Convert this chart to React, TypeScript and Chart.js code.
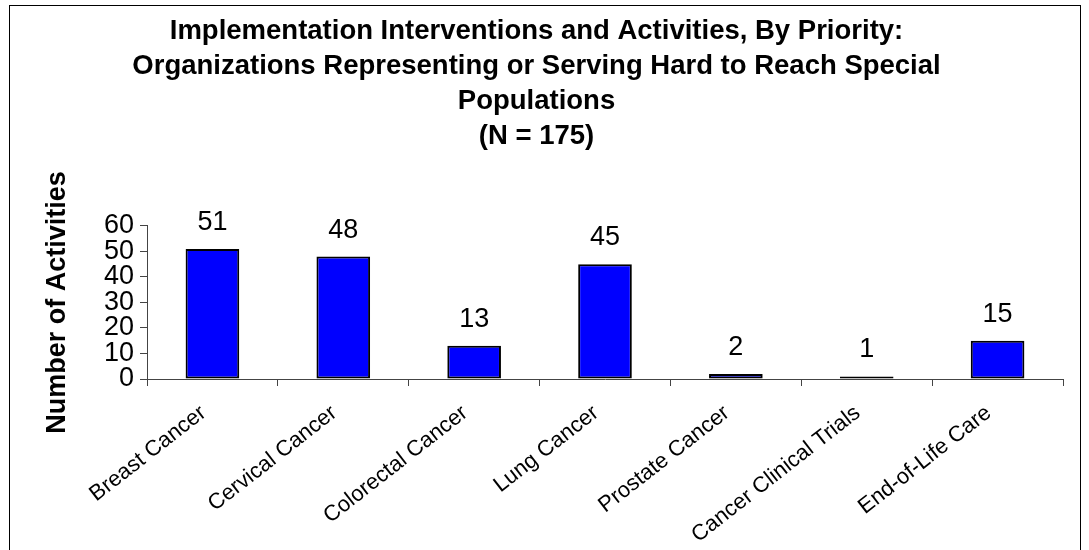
import React, { useEffect, useRef } from "react";
import { Chart, registerables } from "chart.js";

Chart.register(...registerables);

const categories = [
  "Breast Cancer",
  "Cervical Cancer",
  "Colorectal Cancer",
  "Lung Cancer",
  "Prostate Cancer",
  "Cancer Clinical Trials",
  "End-of-Life Care",
];
const activities = [51, 48, 13, 45, 2, 1, 15];
const titleLines = [
  "Implementation Interventions and Activities, By Priority:",
  "Organizations Representing or Serving Hard to Reach Special",
  "Populations",
  "(N = 175)",
];
const yAxisTitle = "Number of Activities";
const yMin = 0;
const yMax = 60;
const yStep = 10;

const FONT = "Arial, 'Liberation Sans', sans-serif";

const CANVAS_W = 1070;
const CANVAS_H = 558;

const valueLabels = {
  id: "valueLabels",
  afterDatasetsDraw(chart: any) {
    const ctx = chart.ctx;
    const meta = chart.getDatasetMeta(0);
    ctx.save();
    ctx.font = `27px ${FONT}`;
    ctx.fillStyle = "#000";
    ctx.textAlign = "center";
    ctx.textBaseline = "alphabetic";
    meta.data.forEach((bar: any, i: number) => {
      ctx.fillText(String(chart.data.datasets[0].data[i]), bar.x, bar.y - 19);
    });
    ctx.restore();
  },
};

export default function App() {
  const canvasRef = useRef<HTMLCanvasElement>(null);

  useEffect(() => {
    const canvas = canvasRef.current;
    if (!canvas) return;
    const chart = new Chart(canvas, {
      type: "bar",
      data: {
        labels: categories,
        datasets: [
          {
            data: activities,
            backgroundColor: "#0000FF",
            borderColor: "#000000",
            borderWidth: 2,
            borderSkipped: false,
            categoryPercentage: 1,
            barPercentage: 0.41,
          },
        ],
      },
      options: {
        animation: false,
        responsive: false,
        maintainAspectRatio: false,
        layout: { padding: { left: 0, right: 17, top: 0, bottom: 0 } },
        plugins: {
          legend: { display: false },
          tooltip: { enabled: false },
          title: {
            display: true,
            text: titleLines,
            color: "#000",
            font: { family: FONT, size: 27.5, weight: "bold", lineHeight: 1.2727 },
            padding: { top: 8, bottom: 72 },
          },
        },
        scales: {
          x: {
            grid: {
              offset: true,
              drawOnChartArea: false,
              drawTicks: true,
              tickLength: 7,
              color: "#444",
            },
            border: { display: true, color: "#444", width: 1 },
            ticks: {
              color: "#000",
              font: { family: FONT, size: 22 },
              minRotation: 38,
              maxRotation: 38,
              autoSkip: false,
              padding: 14,
              labelOffset: -9,
            },
            afterFit(scale: any) {
              scale.height = CANVAS_H - 373;
            },
          },
          y: {
            min: yMin,
            max: yMax,
            grid: {
              drawOnChartArea: false,
              drawTicks: true,
              tickLength: 7,
              color: "#444",
            },
            border: { display: true, color: "#444", width: 1 },
            ticks: {
              stepSize: yStep,
              autoSkip: false,
              color: "#000",
              font: { family: FONT, size: 27, lineHeight: 1 },
              padding: 6,
            },
            title: {
              display: true,
              text: yAxisTitle,
              color: "#000",
              font: { family: FONT, size: 27, weight: "bold" },
              padding: { top: 31, bottom: 0 },
            },
            afterFit(scale: any) {
              scale.width = 137;
            },
          },
        },
      },
      plugins: [valueLabels],
    });
    return () => chart.destroy();
  }, []);

  return (
    <div
      style={{
        position: "absolute",
        left: 9,
        top: 5,
        width: CANVAS_W + 2,
        height: CANVAS_H + 2,
        border: "1px solid #000",
        boxSizing: "border-box",
        background: "#fff",
      }}
    >
      <canvas
        ref={canvasRef}
        width={CANVAS_W}
        height={CANVAS_H}
        style={{ display: "block", width: CANVAS_W, height: CANVAS_H }}
      />
    </div>
  );
}
